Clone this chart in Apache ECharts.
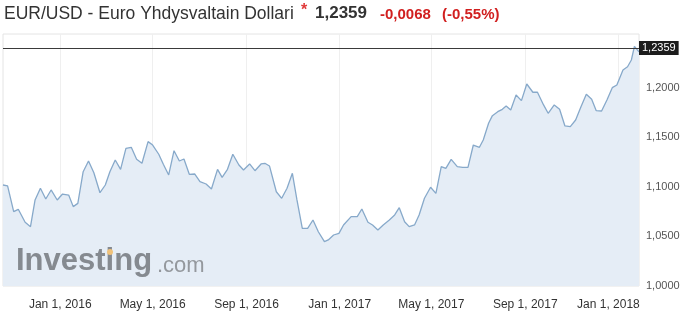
<!DOCTYPE html>
<html>
<head>
<meta charset="utf-8">
<script src="https://cdn.jsdelivr.net/npm/echarts@6/dist/echarts.min.js"></script>
<style>
html,body{margin:0;padding:0;background:#fff;}
#chart{width:688px;height:333px;}
</style>
</head>
<body>
<div id="chart"></div>
<script>
var dates = ['2015-10-18','2015-10-24','2015-11-01','2015-11-07','2015-11-16','2015-11-23','2015-11-29','2015-12-06','2015-12-13','2015-12-20','2015-12-28',
'2016-01-04','2016-01-12','2016-01-18','2016-01-24','2016-01-31','2016-02-07','2016-02-14','2016-02-22','2016-02-29','2016-03-06','2016-03-13','2016-03-20','2016-03-27',
'2016-04-03','2016-04-10','2016-04-17','2016-04-25','2016-05-01','2016-05-09','2016-05-15','2016-05-22','2016-05-29','2016-06-05','2016-06-11','2016-06-18','2016-06-25',
'2016-07-02','2016-07-10','2016-07-17','2016-07-25','2016-07-31','2016-08-07','2016-08-14','2016-08-22','2016-08-28','2016-09-05','2016-09-12','2016-09-20','2016-09-25',
'2016-10-01','2016-10-10','2016-10-17','2016-10-24','2016-10-31','2016-11-06','2016-11-13','2016-11-20','2016-11-27','2016-12-04','2016-12-12','2016-12-17','2016-12-24','2016-12-31',
'2017-01-06','2017-01-16','2017-01-24','2017-01-30','2017-02-07','2017-02-13','2017-02-20','2017-02-27','2017-03-07','2017-03-14','2017-03-20','2017-03-27',
'2017-04-02','2017-04-09','2017-04-15','2017-04-22','2017-04-30','2017-05-07','2017-05-14','2017-05-20','2017-05-27','2017-06-04','2017-06-11','2017-06-18','2017-06-25',
'2017-07-03','2017-07-08','2017-07-15','2017-07-20','2017-07-27','2017-08-02','2017-08-07','2017-08-13','2017-08-20','2017-08-27','2017-09-03','2017-09-11','2017-09-17','2017-09-25',
'2017-10-01','2017-10-09','2017-10-16','2017-10-23','2017-10-30','2017-11-06','2017-11-13','2017-11-20','2017-11-27','2017-12-03','2017-12-10','2017-12-17','2017-12-24','2017-12-30',
'2018-01-07','2018-01-13','2018-01-18','2018-01-22','2018-01-28'];

var rates = [1.1018,1.1010,1.0749,1.0773,1.0642,1.0598,1.0867,1.0985,1.0877,1.0968,1.0867,
1.0927,1.0917,1.0800,1.0833,1.1152,1.1260,1.1142,1.0940,1.1018,1.1152,1.1270,1.1176,1.1388,
1.1398,1.1277,1.1237,1.1455,1.1421,1.1328,1.1227,1.1119,1.1364,1.1260,1.1280,1.1126,1.1129,
1.1051,1.1028,1.0978,1.1176,1.1095,1.1176,1.1328,1.1220,1.1169,1.1230,1.1162,1.1230,1.1237,
1.1210,1.0950,1.0884,1.0985,1.1136,1.0867,1.0581,1.0581,1.0665,1.0547,1.0447,1.0464,1.0514,1.0531,
1.0615,1.0699,1.0699,1.0776,1.0642,1.0615,1.0565,1.0615,1.0665,1.0716,1.0789,1.0648,
1.0598,1.0615,1.0716,1.0884,1.0995,1.0934,1.1203,1.1186,1.1277,1.1203,1.1196,1.1196,1.1421,
1.1398,1.1472,1.1640,1.1717,1.1757,1.1781,1.1815,1.1774,1.1925,1.1868,1.2036,1.1953,1.1953,1.1825,
1.1741,1.1825,1.1781,1.1613,1.1606,1.1673,1.1807,1.1932,1.1882,1.1767,1.1764,1.1875,1.1999,1.2026,
1.2177,1.2210,1.2278,1.2416,1.2359];

var tickDates = ['2016-01-01','2016-05-01','2016-09-01','2017-01-01','2017-05-01','2017-09-01','2018-01-01'];
var tickLabels = ['Jan 1, 2016','May 1, 2016','Sep 1, 2016','Jan 1, 2017','May 1, 2017','Sep 1, 2017','Jan 1, 2018'];
var yTicks = [1.0, 1.05, 1.10, 1.15, 1.20];
var lastPrice = 1.2359;
var titleText = 'EUR/USD - Euro Yhdysvaltain Dollari';
var priceText = '1,2359';
var changeText = '-0,0068';
var changePctText = '(-0,55%)';

var P = echarts.number.parseDate;
function t(s){ return P(s).getTime(); }
var tickTimes = tickDates.map(t);
var seriesData = dates.map(function(d, i){ return [t(d), rates[i]]; });
function fmtNum(v){ return v.toFixed(4).replace('.', ','); }

var FONT = '"Liberation Sans", Arial, sans-serif';
var chart = echarts.init(document.getElementById('chart'), null, {renderer: 'canvas'});
chart.setOption({
  animation: false,
  backgroundColor: '#fff',
  grid: {left: 3, right: 49, top: 34, bottom: 47, show: true, borderColor: '#e4e4e4', borderWidth: 1, containLabel: false},
  xAxis: {
    type: 'value',
    min: t('2015-10-18'),
    max: t('2018-01-28'),
    axisLine: {show: false},
    axisTick: {show: false, customValues: tickTimes},
    splitLine: {show: true, lineStyle: {color: '#efefef', width: 1}},
    axisLabel: {
      customValues: tickTimes,
      margin: 13,
      fontFamily: FONT,
      fontSize: 12,
      color: '#333',
      formatter: function(v){
        var i = -1;
        for (var k = 0; k < tickTimes.length; k++) { if (Math.abs(tickTimes[k] - v) < 1000) i = k; }
        if (i < 0) return '';
        if (i === tickTimes.length - 1) return '{l|' + tickLabels[i] + '}';
        return tickLabels[i];
      },
      rich: {l: {fontFamily: FONT, fontSize: 12, color: '#333', padding: [0, 20, 0, 0]}}
    }
  },
  yAxis: {
    type: 'value',
    position: 'right',
    min: 1.0,
    max: 1.254,
    interval: 0.05,
    axisLine: {show: false},
    axisTick: {show: false},
    splitLine: {show: false},
    axisLabel: {
      margin: 7,
      fontFamily: FONT,
      fontSize: 11,
      color: '#555',
      formatter: function(v){
        for (var i = 0; i < yTicks.length; i++) {
          if (Math.abs(v - yTicks[i]) < 1e-6) return fmtNum(yTicks[i]);
        }
        return '';
      }
    }
  },
  series: [{
    type: 'line',
    data: seriesData,
    showSymbol: false,
    symbol: 'none',
    lineStyle: {color: '#87a9ca', width: 1.3},
    areaStyle: {color: '#e5edf6', opacity: 1},
    markLine: {
      silent: true,
      symbol: ['none', 'none'],
      lineStyle: {color: '#3a3a3a', width: 1, type: 'solid'},
      label: {
        show: true,
        position: 'end',
        distance: 0,
        formatter: function(){ return fmtNum(lastPrice); },
        backgroundColor: '#1c1c1c',
        color: '#fff',
        fontFamily: FONT,
        fontSize: 11,
        padding: [2, 3, 1, 3]
      },
      data: [{yAxis: lastPrice}]
    }
  }],
  graphic: [
    {type: 'text', left: 4, top: 5, style: {text: titleText, fontFamily: FONT, fontSize: 17.5, fill: '#333'}},
    {type: 'text', left: 301, top: 3, style: {text: '*', fontFamily: FONT, fontSize: 16, fontWeight: 'bold', fill: '#e03a3a'}},
    {type: 'text', left: 315, top: 5, style: {text: priceText, fontFamily: FONT, fontSize: 17, fontWeight: 'bold', fill: '#333'}},
    {type: 'text', left: 380, top: 7, style: {text: changeText, fontFamily: FONT, fontSize: 15, fontWeight: 'bold', fill: '#d11f1f'}},
    {type: 'text', left: 442, top: 7, style: {text: changePctText, fontFamily: FONT, fontSize: 15, fontWeight: 'bold', fill: '#d11f1f'}},
    {type: 'text', left: 16, top: 246, z: 50, style: {text: 'Investing', fontFamily: FONT, fontSize: 31, fontWeight: 'bold', fill: '#858a90'}},
    {type: 'text', left: 157, top: 255, z: 50, style: {text: '.com', fontFamily: FONT, fontSize: 22, fill: '#94989d'}},
    {type: 'circle', left: 107, top: 249, z: 51, shape: {r: 3}, style: {fill: '#f0c27a'}}
  ]
});
</script>
</body>
</html>
